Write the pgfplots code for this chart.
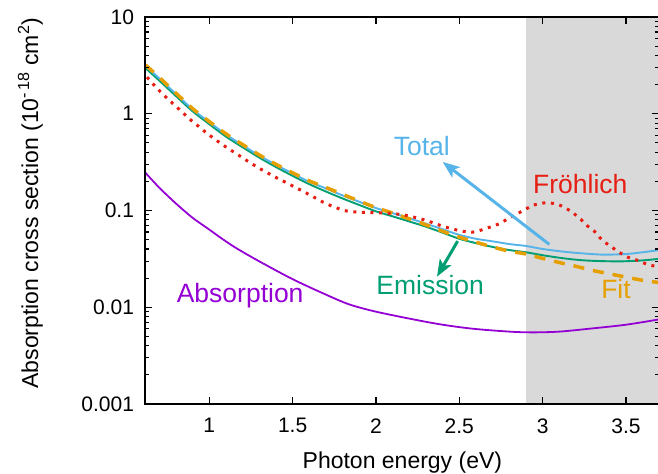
\documentclass[border=0pt]{standalone}
\usepackage{pgfplots}
\pgfplotsset{compat=1.18}
\usepackage{fontspec}
\setmainfont{Liberation Sans}
\usetikzlibrary{arrows.meta}
\definecolor{cTotal}{HTML}{56B4E9}
\definecolor{cEm}{HTML}{009E73}
\definecolor{cFit}{HTML}{E69F00}
\definecolor{cFr}{RGB}{230,30,20}
\definecolor{cAbs}{HTML}{9400D3}
\definecolor{cShade}{RGB}{217,217,217}
\begin{document}
\begin{tikzpicture}
\begin{axis}[
  scale only axis, width=513.8bp, height=387bp,
  xmin=0.617, xmax=3.7, ymode=log, ymin=0.001, ymax=10,
  xtick={1,1.5,2,2.5,3,3.5},
  ytick={0.001,0.01,0.1,1,10},
  yticklabels={0.001,0.01,0.1,1,10},
  /pgf/number format/assume math mode=true,
  ticklabel style={font=\fontsize{21bp}{25bp}\selectfont},
  yticklabel style={xshift=-8bp},
  xticklabel style={yshift=-11bp},
  label style={font=\fontsize{23bp}{27bp}\selectfont},
  xlabel={Photon energy (eV)},
  ylabel={Absorption cross section (10\textsuperscript{-\,18} cm\textsuperscript{2})},
  xlabel style={at={(axis description cs:0.5,-0.1654)}, anchor=base},
  ylabel style={at={(axis description cs:-0.2092,0.519)}, anchor=base},
  axis line style={line width=2bp},
  major tick length=7bp, minor tick length=4bp,
  every tick/.style={black, line width=1.1bp},
  axis on top,
  no markers,
]
\coordinate (bl) at (rel axis cs:0,0);
\addplot[draw=none, fill=cShade] coordinates {(2.9,0.001) (2.9,10) (3.8,10) (3.8,0.001)} -- cycle;

% Absorption
\addplot[cAbs, line width=1.8bp, smooth] coordinates {
(0.617,0.245) (0.7,0.172) (0.8,0.118) (0.9,0.084) (1.0,0.0635) (1.07,0.052)
(1.16,0.041) (1.3,0.0298) (1.5,0.0195) (1.7,0.0135) (1.84,0.0107) (2.0,0.0090)
(2.24,0.0074) (2.4,0.0066) (2.58,0.0060) (2.8,0.0056) (2.94,0.0055) (3.1,0.0056)
(3.28,0.0060) (3.5,0.0066) (3.7,0.0075)};

% Emission
\addplot[cEm, line width=1.9bp, smooth] coordinates {
(0.617,2.96) (0.7,2.2) (0.8,1.52) (0.9,1.06) (1.0,0.78) (1.1,0.58) (1.2,0.45)
(1.3,0.352) (1.4,0.281) (1.5,0.228) (1.6,0.187) (1.7,0.157) (1.8,0.133) (1.9,0.114)
(2.0,0.098) (2.1,0.087) (2.2,0.077) (2.3,0.068) (2.4,0.059) (2.5,0.051) (2.6,0.046)
(2.7,0.042) (2.8,0.039) (2.9,0.037) (3.0,0.0345) (3.1,0.0325) (3.2,0.031) (3.3,0.0302)
(3.46,0.0298) (3.6,0.0305) (3.7,0.0317)};

% Total
\addplot[cTotal, line width=1.9bp, smooth] coordinates {
(0.617,3.12) (0.7,2.32) (0.8,1.6) (0.9,1.11) (1.0,0.82) (1.1,0.61) (1.2,0.472)
(1.3,0.37) (1.4,0.296) (1.5,0.241) (1.6,0.198) (1.7,0.169) (1.8,0.143) (1.9,0.123)
(2.0,0.106) (2.1,0.094) (2.2,0.083) (2.3,0.073) (2.4,0.064) (2.5,0.056) (2.6,0.051)
(2.7,0.048) (2.8,0.045) (2.9,0.043) (3.0,0.040) (3.1,0.038) (3.2,0.0365) (3.36,0.035)
(3.5,0.0355) (3.6,0.037) (3.7,0.039)};

% Fit
\addplot[cFit, line width=3.5bp, smooth, dash pattern=on 11bp off 9bp] coordinates {
(0.617,3.2) (0.7,2.37) (0.8,1.63) (0.9,1.13) (1.0,0.83) (1.1,0.62) (1.2,0.48)
(1.3,0.375) (1.4,0.30) (1.5,0.245) (1.6,0.202) (1.7,0.173) (1.8,0.147) (1.9,0.125)
(2.0,0.107) (2.1,0.094) (2.2,0.082) (2.3,0.071) (2.4,0.061) (2.5,0.053) (2.6,0.047)
(2.7,0.042) (2.8,0.038) (2.9,0.0355) (3.0,0.032) (3.1,0.029) (3.2,0.0265) (3.3,0.024)
(3.4,0.0222) (3.5,0.0205) (3.6,0.019) (3.7,0.018)};

% Froehlich
\addplot[cFr, line width=3bp, smooth, dash pattern=on 3bp off 5.6bp] coordinates {
(0.626,2.39) (0.666,2.0) (0.706,1.69) (0.752,1.42) (0.796,1.21) (0.84,1.03)
(0.886,0.87) (0.932,0.75) (0.98,0.64) (1.08,0.478) (1.18,0.369) (1.28,0.286)
(1.386,0.226) (1.496,0.181) (1.606,0.144) (1.70,0.118) (1.81,0.100) (1.9,0.096)
(2.0,0.095) (2.1,0.093) (2.18,0.089) (2.29,0.080) (2.41,0.068) (2.52,0.061)
(2.59,0.060) (2.645,0.064) (2.74,0.073) (2.79,0.082) (2.846,0.092) (2.90,0.104)
(2.956,0.115) (3.016,0.120) (3.08,0.117) (3.13,0.108) (3.18,0.095) (3.23,0.081)
(3.27,0.069) (3.32,0.059) (3.36,0.049) (3.46,0.037) (3.51,0.033) (3.57,0.0305)
(3.63,0.0277) (3.7,0.026)};

% arrows
\draw[cTotal, line width=3bp, -{Stealth[length=17bp, width=13bp, inset=4bp]}]
  (axis cs:3.04,0.0446) -- (axis cs:2.40,0.318);
\draw[cEm, line width=3bp, -{Stealth[length=17bp, width=13bp, inset=4bp]}]
  (axis cs:2.49,0.0483) -- (axis cs:2.366,0.0207);

% labels
\begin{scope}[every node/.style={font=\fontsize{26.5bp}{30bp}\selectfont, anchor=base, inner sep=0pt}]
\node[text=cTotal] at (axis cs:2.275,0.369) {Total};
\node[text=cFr] at (axis cs:3.226,0.150) {Fröhlich};
\node[text=cFit] at (axis cs:3.44,0.0123) {Fit};
\node[text=cEm] at (axis cs:2.325,0.0134) {Emission};
\node[text=cAbs] at (axis cs:1.185,0.01117) {Absorption};
\end{scope}
\end{axis}
\pgfresetboundingbox
\path[use as bounding box] ([xshift=-145.5bp, yshift=-70bp]bl) rectangle ([xshift=512.5bp, yshift=404bp]bl);
\end{tikzpicture}
\end{document}
